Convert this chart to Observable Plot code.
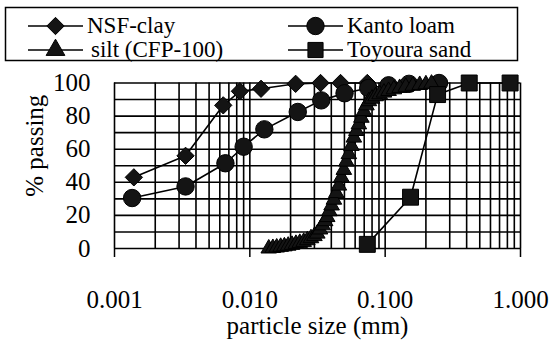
<!DOCTYPE html>
<html>
<head>
<meta charset="utf-8">
<script src="https://cdn.jsdelivr.net/npm/d3@7"></script>
<script src="https://cdn.jsdelivr.net/npm/@observablehq/plot@0.6"></script>
<style>
  html, body { margin: 0; padding: 0; background: #fff; }
  #wrap { width: 557px; height: 347px; font-family: 'Liberation Serif', serif; }
  #legend { display: block; }
</style>
</head>
<body>
<div id="wrap"></div>
<script>
// ---- data ----
const nsfSize   = [0.00139, 0.00335, 0.00636, 0.00844, 0.0121, 0.0218, 0.0333, 0.0468, 0.0738];
const nsfPass   = [43, 56, 86.5, 95, 96.5, 99.5, 100, 100, 100];

const kantoSize = [0.00135, 0.00335, 0.0066, 0.0090, 0.0128, 0.0226, 0.0337, 0.0501, 0.075, 0.106, 0.15, 0.25];
const kantoPass = [30.5, 37.5, 51.5, 61.5, 72, 82.5, 89.5, 93.8, 97, 98.6, 99.5, 100];

const siltSize  = [0.0138, 0.0148, 0.0158, 0.0169, 0.018, 0.0192, 0.0205, 0.0219, 0.0234, 0.025,
                   0.0266, 0.0283, 0.030, 0.0315, 0.033, 0.0345, 0.036, 0.0373, 0.0387, 0.0402,
                   0.0418, 0.0435, 0.0455, 0.0475, 0.0495, 0.0517, 0.0539, 0.0563, 0.0587, 0.0613,
                   0.0639, 0.0667, 0.0696, 0.0727, 0.0758, 0.080, 0.085, 0.091, 0.098, 0.106,
                   0.116, 0.128, 0.142, 0.16, 0.18, 0.20, 0.22];
const siltPass  = [0, 0.3, 0.6, 1, 1.3, 1.7, 2.2, 2.8, 3.4, 4,
                   5, 6.2, 7.5, 9, 11.5, 14, 16.5, 19, 22.5, 26,
                   29.5, 33.5, 38, 43, 47.5, 52.5, 57, 62, 67, 71,
                   75, 79, 83, 86.5, 89, 90.5, 92, 93.2, 94.2, 95.2,
                   96.2, 97, 97.7, 98.3, 98.8, 99.2, 99.6];

const toyouraSize = [0.0738, 0.154, 0.244, 0.418, 0.838];
const toyouraPass = [2.5, 31, 93, 100, 100];

const seriesNames   = ["NSF-clay", "Kanto loam", "silt (CFP-100)", "Toyoura sand"];
const seriesSymbols = ["diamond2", "circle", "triangle", "square"];

const xTickValues = [0.001, 0.01, 0.1, 1];
const yTickValues = [0, 20, 40, 60, 80, 100];
const yGridValues = [0, 10, 20, 30, 40, 50, 60, 70, 80, 90, 100];
const xLabel = "particle size (mm)";
const yLabel = "% passing";

// ---- build tables ----
const zip = (xs, ys, name) => xs.map((x, i) => ({size: x, pass: ys[i], name}));
const nsf = zip(nsfSize, nsfPass, seriesNames[0]);
const kanto = zip(kantoSize, kantoPass, seriesNames[1]);
const silt = zip(siltSize, siltPass, seriesNames[2]);
const toyoura = zip(toyouraSize, toyouraPass, seriesNames[3]);
const xGridValues = d3.scaleLog().domain([0.001, 1]).ticks();

const FONT = "Liberation Serif, serif";
const FS = 25;
const markerR = {"diamond2": 7.8, "circle": 8.7, "triangle": 5.8, "square": 9};
const ink = "#000";
const fillInk = "#141414";

// ---- legend (above the plot) ----
const wrap = d3.select("#wrap");
const leg = wrap.append("svg").attr("id", "legend").attr("width", 557).attr("height", 70)
  .attr("font-family", FONT);
leg.append("rect").attr("x", 5.5).attr("y", 7.5).attr("width", 512).attr("height", 53)
  .attr("fill", "none").attr("stroke", ink).attr("stroke-width", 1.5);
const legendItems = [
  {name: seriesNames[0], sym: d3.symbolDiamond2, r: markerR.diamond2, lx: 28, tx: 87, y: 26},
  {name: seriesNames[2], sym: d3.symbolTriangle, r: markerR.triangle * 1.2, lx: 28, tx: 91, y: 50},
  {name: seriesNames[1], sym: d3.symbolCircle, r: markerR.circle, lx: 288, tx: 347, y: 26},
  {name: seriesNames[3], sym: d3.symbolSquare, r: markerR.square * 0.95, lx: 288, tx: 347, y: 50}
];
for (const it of legendItems) {
  const g = leg.append("g");
  g.append("line").attr("x1", it.lx).attr("x2", it.lx + 55).attr("y1", it.y).attr("y2", it.y)
    .attr("stroke", ink).attr("stroke-width", 1.6);
  g.append("path").attr("transform", `translate(${it.lx + 27.5},${it.y})`)
    .attr("d", d3.symbol(it.sym, Math.PI * it.r * it.r)())
    .attr("fill", fillInk).attr("stroke", ink);
  g.append("text").attr("x", it.tx).attr("y", it.y + 7).attr("font-size", 23).attr("fill", ink)
    .attr("font-family", FONT).text(it.name);
}

// ---- chart ----
const all = [
  {data: nsf, symbol: seriesSymbols[0]},
  {data: kanto, symbol: seriesSymbols[1]},
  {data: silt, symbol: seriesSymbols[2]},
  {data: toyoura, symbol: seriesSymbols[3]}
];

const chart = Plot.plot({
  width: 557,
  height: 277,
  marginTop: 12.5,
  marginBottom: 99,
  marginLeft: 114,
  marginRight: 37,
  style: {fontFamily: FONT, fontSize: FS + "px", color: ink, background: "#fff", overflow: "visible"},
  x: {type: "log", domain: [0.001, 1], label: null},
  y: {domain: [0, 100], label: null},
  marks: [
    Plot.ruleX(xGridValues, {stroke: ink, strokeWidth: 1.6, strokeOpacity: 1}),
    Plot.ruleY(yGridValues, {stroke: ink, strokeWidth: 1.6, strokeOpacity: 1}),
    Plot.axisX(xTickValues, {tickSize: 9, tickPadding: 33, tickFormat: d3.format(".3f"),
      fontSize: FS, fontFamily: FONT, label: null, strokeWidth: 1.5}),
    Plot.axisY(yTickValues, {tickSize: 0, tickPadding: 24, fontSize: FS, fontFamily: FONT, label: null}),
    Plot.text([xLabel], {frameAnchor: "bottom", dy: 85, fontSize: FS, fontFamily: FONT, fill: ink}),
    Plot.text([yLabel], {frameAnchor: "left", rotate: -90, dx: -80, dy: 31, fontSize: FS, fontFamily: FONT, fill: ink}),
    ...all.flatMap(s => [
      Plot.line(s.data, {x: "size", y: "pass", stroke: ink, strokeWidth: 1.6}),
      Plot.dot(s.data, {x: "size", y: "pass", symbol: () => s.symbol, r: markerR[s.symbol],
        fill: fillInk, stroke: ink, strokeWidth: 1})
    ])
  ]
});
document.getElementById("wrap").appendChild(chart);
</script>
</body>
</html>
